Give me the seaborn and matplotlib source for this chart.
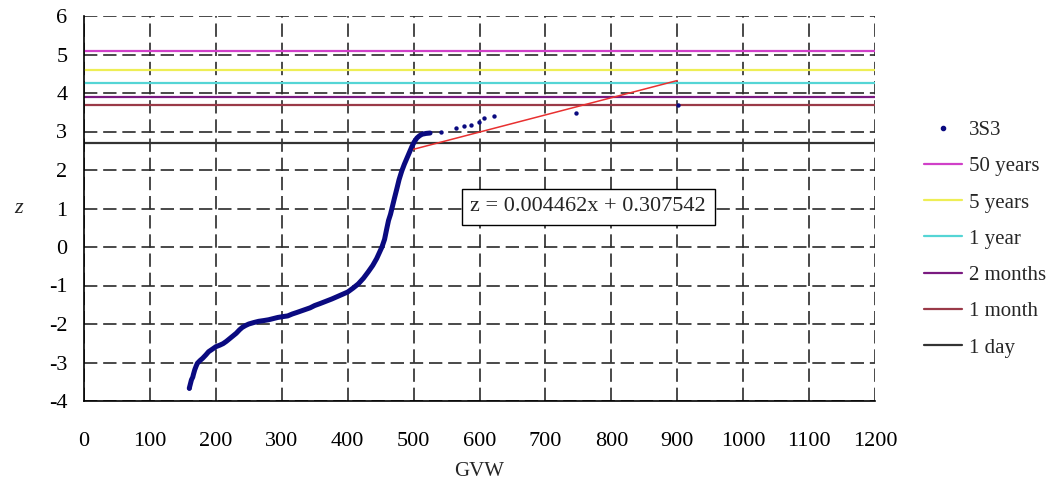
import matplotlib
matplotlib.use("Agg")
import matplotlib.pyplot as plt
import seaborn as sns
import numpy as np
import pandas as pd
from matplotlib.lines import Line2D

# ---- data ----
gvw_curve = [159.7, 163, 165, 166, 168, 170, 172, 176, 180, 185, 189, 195, 200, 206, 211,
             216, 221, 226, 231, 236, 240, 245, 250, 258, 265, 273, 280, 287, 294, 301,
             309, 316, 323, 333, 343, 350, 358, 367, 376, 384, 392, 400, 408, 416, 424,
             431, 438, 444, 448, 452, 456, 459, 462, 465, 467, 471, 475, 478, 482, 486,
             490, 494, 497.5, 501, 505, 509, 513, 519, 525]
z_curve = [-3.67, -3.45, -3.38, -3.31, -3.19, -3.10, -3.02, -2.95, -2.89, -2.80, -2.72, -2.65,
           -2.59, -2.55, -2.51, -2.45, -2.38, -2.31, -2.24, -2.15, -2.09, -2.04, -2.00, -1.96,
           -1.93, -1.91, -1.89, -1.86, -1.83, -1.81, -1.79, -1.74, -1.70, -1.64, -1.58, -1.52,
           -1.47, -1.41, -1.35, -1.29, -1.23, -1.17, -1.07, -0.96, -0.81, -0.65, -0.48, -0.30,
           -0.15, 0.0, 0.2, 0.45, 0.69, 0.85, 0.99, 1.27, 1.54, 1.75, 1.97, 2.15, 2.31, 2.47,
           2.61, 2.73, 2.83, 2.89, 2.93, 2.95, 2.96]
gvw_tail = [159.7, 541, 564, 577, 587, 599, 607, 622, 746, 901]
z_tail = [-3.67, 3.00, 3.09, 3.13, 3.17, 3.24, 3.35, 3.41, 3.48, 3.68]

return_labels = ["50 years", "5 years", "1 year", "2 months", "1 month", "1 day"]
return_levels = [5.08, 4.61, 4.26, 3.89, 3.68, 2.69]
return_colors = ["#D040C8", "#EEEE55", "#55D5D5", "#7A1A80", "#9A3A48", "#333333"]

slope, intercept = 0.004462, 0.307542
trend_x = [500, 900]

x_ticks = list(range(0, 1201, 100))
y_ticks = list(range(-4, 7, 1))

# ---- styling ----
sns.set_style("white")
plt.rcParams["font.family"] = ["Liberation Serif", "DejaVu Serif"]
plt.rcParams["axes.unicode_minus"] = False

fig, ax = plt.subplots(figsize=(10.53, 4.83), dpi=100)
fig.subplots_adjust(left=84/1053, right=875/1053, top=1-16/483, bottom=1-401/483)

ax.set_xlim(0, 1200)
ax.set_ylim(-4, 6)
ax.set_xticks(x_ticks)
ax.set_yticks(y_ticks)
ax.grid(True, color="#2a2a2a", linestyle=(0, (8, 3.5)), linewidth=1.2, zorder=0)
ax.set_axisbelow(True)

for s in ["top", "right"]:
    ax.spines[s].set_visible(False)
for s in ["left", "bottom"]:
    ax.spines[s].set_color("black")
    ax.spines[s].set_linewidth(1.2)

# return level lines
handles = []
for lab, lev, col in zip(return_labels, return_levels, return_colors):
    ax.axhline(lev, color=col, linewidth=1.6, zorder=2)
    handles.append(Line2D([0], [0], color=col, linewidth=1.6, label=lab))

# data
df_curve = pd.DataFrame({"GVW": gvw_curve, "z": z_curve})
df_tail = pd.DataFrame({"GVW": gvw_tail, "z": z_tail})
sns.lineplot(data=df_curve, x="GVW", y="z", sort=False, color="#0A0A80",
             linewidth=3.6, ax=ax, zorder=4, legend=False)
sns.scatterplot(data=df_tail, x="GVW", y="z", color="#0A0A80", s=10, linewidth=0,
                ax=ax, zorder=5, legend=False)

# trend line
trend_z = [slope * v + intercept for v in trend_x]
ax.plot(trend_x, trend_z, color="#E83030", linewidth=1.1, zorder=6)

ax.text(765, 1.04, "z = %.6fx + %.6f" % (slope, intercept), fontsize=16,
        ha="center", va="center", zorder=7,
        bbox=dict(boxstyle="square,pad=0.4", facecolor="white", edgecolor="black", linewidth=1.0))

ax.tick_params(axis="both", labelsize=16, colors="black", length=7, width=1.2)
ax.tick_params(axis="x", direction="inout", pad=19)
ax.tick_params(axis="y", direction="out", pad=5)
ax.set_xlabel("GVW", fontsize=15, labelpad=8)
ax.set_ylabel("z", fontsize=16, rotation=0, style="italic", labelpad=22, va="center")

data_handle = Line2D([0], [0], marker="o", linestyle="none", color="#0A0A80",
                     markersize=3, label="3S3")
leg = fig.legend(handles=[data_handle] + handles, loc="upper left",
                 bbox_to_anchor=(914/1053, 1-110/483), frameon=False, fontsize=15,
                 borderpad=0, labelspacing=0.8, handlelength=1.78, handletextpad=0.38)

fig.savefig("out.png", dpi=100)
